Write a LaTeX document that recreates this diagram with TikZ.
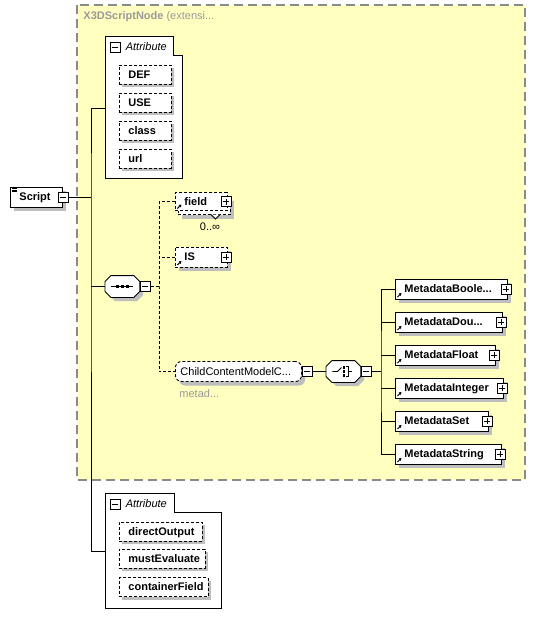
\documentclass[tikz,border=0pt]{standalone}
\usepackage{fontspec}
\setmainfont{Liberation Sans}
\usetikzlibrary{arrows.meta,positioning}

\definecolor{groupyellow}{HTML}{FFFFC0}
\definecolor{groupframe}{HTML}{8A8A8A}
\definecolor{dropgray}{HTML}{BEBEBE}
\definecolor{hint}{HTML}{9A9A9A}

\tikzset{
  lbl/.style={font=\fontsize{11}{12}\selectfont\bfseries, inner sep=0pt, anchor=west, text height=7.8pt, text depth=0pt},
  plainlbl/.style={lbl, font=\fontsize{11}{12}\selectfont},
  dots/.style={dash pattern=on 3pt off 2pt},
  attr/.style={draw, dots, fill=white, anchor=west, minimum height=19, inner sep=0pt,
    label={[lbl,xshift=9]west:#1}},
  elem/.style={draw, fill=white, anchor=west, minimum height=20, inner sep=0pt,
    label={[lbl,xshift=9]west:#1},
    path picture={\draw[line width=1pt,-{Triangle[length=2.5pt,width=3pt]}]
      ([shift={(2pt,2pt)}]path picture bounding box.south west) -- ++(4pt,4pt);}},
  optelem/.style={elem=#1, dots},
  root/.style={draw, fill=white, anchor=west, minimum height=20, inner sep=0pt,
    label={[lbl,xshift=9]west:#1},
    path picture={\foreach \d in {1.5,3,4.5}
      {\draw[line width=0.6pt] ([shift={(2pt,-\d pt)}]path picture bounding box.north west) -- ++(5pt,0pt);}}},
  octo/.style={minimum width=34, minimum height=21, inner sep=0pt, anchor=west},
  minusbox/.style={draw, fill=white, minimum size=10, inner sep=0pt, line width=0.8pt,
    path picture={\draw ([xshift=2pt]path picture bounding box.west) -- ([xshift=-2pt]path picture bounding box.east);}},
  plusbox/.style={draw, fill=white, minimum size=10, inner sep=0pt, line width=0.8pt,
    path picture={\draw ([xshift=2pt]path picture bounding box.west) -- ([xshift=-2pt]path picture bounding box.east);
      \draw ([yshift=-2pt]path picture bounding box.north) -- ([yshift=2pt]path picture bounding box.south);}},
  grouplbl/.style={font=\fontsize{11}{12}\selectfont\itshape, inner sep=0pt, anchor=west},
  shadow/.style={fill=dropgray}
}
% octagon round a compositor node
\newcommand\octagon[1]{%
  \draw[fill=white] ([xshift=6pt]#1.north west) -- ([xshift=-6pt]#1.north east)
    -- ([yshift=-6pt]#1.north east) -- ([yshift=6pt]#1.south east)
    -- ([xshift=-6pt]#1.south east) -- ([xshift=6pt]#1.south west)
    -- ([yshift=6pt]#1.south west) -- ([yshift=-6pt]#1.north west) -- cycle;}

\begin{document}
\begin{tikzpicture}[x=1pt,y=-1pt,line width=0.9pt]
\useasboundingbox (0,0) rectangle (536,626);

% extension base
\draw[groupframe,fill=groupyellow,line width=1.2pt,dash pattern=on 9pt off 5pt] (77,5) rectangle (525,480);
\node[anchor=west,text=hint,font=\fontsize{11}{12}\selectfont,inner sep=0pt] (ext) at (83,17) {\textbf{X3DScriptNode} (extensi...};

% attribute groups
\draw[fill=white] (105,36) -- (173,36) -- (173,55) -- (182,55) -- (182,178) -- (105,178) -- cycle;
\draw[fill=white] (105,493) -- (174,493) -- (174,512) -- (221,512) -- (221,608) -- (105,608) -- cycle;

% attributes of the base
\node[minusbox] (attAm) at (115,47) {};
\node[grouplbl,right=5 of attAm] (attAl) {Attribute};
\fill[shadow] (122,68) rectangle (174,87);
\fill[shadow] (122,96) rectangle (174,115);
\fill[shadow] (122,124) rectangle (174,143);
\fill[shadow] (122,152) rectangle (174,171);
\node[attr=DEF,minimum width=52] (def) at (119,74.5) {};
\node[attr=USE,minimum width=52] (use) at (119,102.5) {};
\node[attr=class,minimum width=52] (cls) at (119,130.5) {};
\node[attr=url,minimum width=52] (url) at (119,158.5) {};

% root element
\fill[shadow] (14,191) rectangle (66,211);
\node[root=Script,minimum width=52] (script) at (10,197) {};
\node[minusbox] (scriptm) at (script.east) {};

\coordinate (trunk) at (91,197);
\coordinate (attA) at (105,108);
\coordinate (attB) at (105,551);
\draw (scriptm.east) -- (trunk);
\draw (attA) -| (trunk) |- (attB);

% sequence
\fill[shadow] (115,280) -- (137,280) -- (143,286) -- (143,295) -- (137,301) -- (115,301) -- (109,295) -- (109,286) -- cycle;
\node[octo] (seq) at (105,286.5) {};
\octagon{seq}
\draw ([xshift=-11pt]seq.center) -- ([xshift=11pt]seq.center);
\foreach \d in {-5,0,5}
  {\fill ([xshift=\d pt]seq.center) +(-1.5pt,-1.5pt) rectangle +(1.5pt,1.5pt);}
\node[minusbox,right=0 of seq] (seqm) {};
\draw (trunk |- seq) -- (seq.west);

\coordinate (seqfork) at (159,286.5);
\draw[dots] (seqm.east) -- (seqfork);

% field (0..unbounded)
\fill[shadow] (182,200.5) rectangle (234,218.5);
\node[draw,dots,fill=white,anchor=west,minimum width=52,minimum height=18,inner sep=0pt] (fieldback) at (178,205.5) {};
\draw[fill=white,line width=0.8pt] (211,214.5) -- (215.5,219) -- (220,214.5);
\node[optelem=field,minimum width=52,minimum height=18] (field) at (175,201.5) {};
\node[plusbox] (fieldp) at ([xshift=-2]field.east) {};
\node[plainlbl,anchor=center] (fieldn) at (210,227) {0..∞};

\fill[shadow] (179,251) rectangle (231,271);
\node[optelem=IS,minimum width=52] (is) at (175,257) {};
\node[plusbox] (isp) at ([xshift=-2]is.east) {};

% child content model group
\fill[shadow,rounded corners=6pt] (179,365.5) rectangle (305,385.5);
\node[draw,dots,fill=white,rounded corners=6pt,anchor=west,minimum width=126,minimum height=20,inner sep=0pt,
  label={[plainlbl,xshift=5]west:ChildContentModelC...}] (ccm) at (175,371.5) {};
\node[minusbox,right=0 of ccm] (ccmm) {};
\node[plainlbl,text=hint] (ccmn) at (179,394) {metad...};

\draw[dots] (field.west) -| (seqfork) |- (ccm.west);
\draw[dots] (is.west) -- (is.west -| seqfork);

% choice
\fill[shadow] (336,365) -- (358,365) -- (364,371) -- (364,380) -- (358,386) -- (336,386) -- (330,380) -- (330,371) -- cycle;
\node[octo] (cho) at (326,371.5) {};
\octagon{cho}
\draw ([xshift=-11pt]cho.center) -- ([xshift=-6pt]cho.center) -- ([shift={(-2pt,4pt)}]cho.center);
\foreach \d in {-4,0,4}
  {\fill ([shift={(0.5pt,\d pt)}]cho.center) +(-1.3pt,-1.3pt) rectangle +(1.3pt,1.3pt);}
\draw ([shift={(2.5pt,5pt)}]cho.center) -- ([shift={(5pt,5pt)}]cho.center) -- ([shift={(5pt,-5pt)}]cho.center) -- ([shift={(2.5pt,-5pt)}]cho.center);
\draw ([xshift=5pt]cho.center) -- ([xshift=9pt]cho.center);
\node[minusbox,right=0 of cho] (chom) {};
\draw (ccmm.east) -- (cho.west);

\coordinate (chofork) at (381,371.5);
\draw (chom.east) -- (chofork);

% metadata choices
\fill[shadow] (399,283) rectangle (511,303);
\fill[shadow] (399,316) rectangle (506,336);
\fill[shadow] (399,349) rectangle (499,369);
\fill[shadow] (399,382) rectangle (507,402);
\fill[shadow] (399,415) rectangle (492,435);
\fill[shadow] (399,448) rectangle (505,468);
\node[elem=MetadataBoole...,minimum width=112] (mbool) at (395,289) {};
\node[plusbox] at ([xshift=-2]mbool.east) {};
\node[elem=MetadataDou...,minimum width=107] (mdbl) at (395,322) {};
\node[plusbox] at ([xshift=-2]mdbl.east) {};
\node[elem=MetadataFloat,minimum width=100] (mflt) at (395,355) {};
\node[plusbox] at ([xshift=-2]mflt.east) {};
\node[elem=MetadataInteger,minimum width=108] (mint) at (395,388) {};
\node[plusbox] at ([xshift=-2]mint.east) {};
\node[elem=MetadataSet,minimum width=93] (mset) at (395,421) {};
\node[plusbox] at ([xshift=-2]mset.east) {};
\node[elem=MetadataString,minimum width=106] (mstr) at (395,454) {};
\node[plusbox] at ([xshift=-2]mstr.east) {};

\draw (mbool.west) -| (chofork) |- (mstr.west);
\draw (mdbl.west) -- (mdbl.west -| chofork);
\draw (mflt.west) -- (mflt.west -| chofork);
\draw (mint.west) -- (mint.west -| chofork);
\draw (mset.west) -- (mset.west -| chofork);

% own attributes
\node[minusbox] (attBm) at (115,504) {};
\node[grouplbl,right=5 of attBm] (attBl) {Attribute};
\fill[shadow] (122,525) rectangle (205,544);
\fill[shadow] (122,552) rectangle (208,571);
\fill[shadow] (122,580.5) rectangle (211,599.5);
\node[attr=directOutput,minimum width=83] (dout) at (119,531.5) {};
\node[attr=mustEvaluate,minimum width=86] (meval) at (119,558.5) {};
\node[attr=containerField,minimum width=89] (cfield) at (119,587) {};
\end{tikzpicture}
\end{document}
